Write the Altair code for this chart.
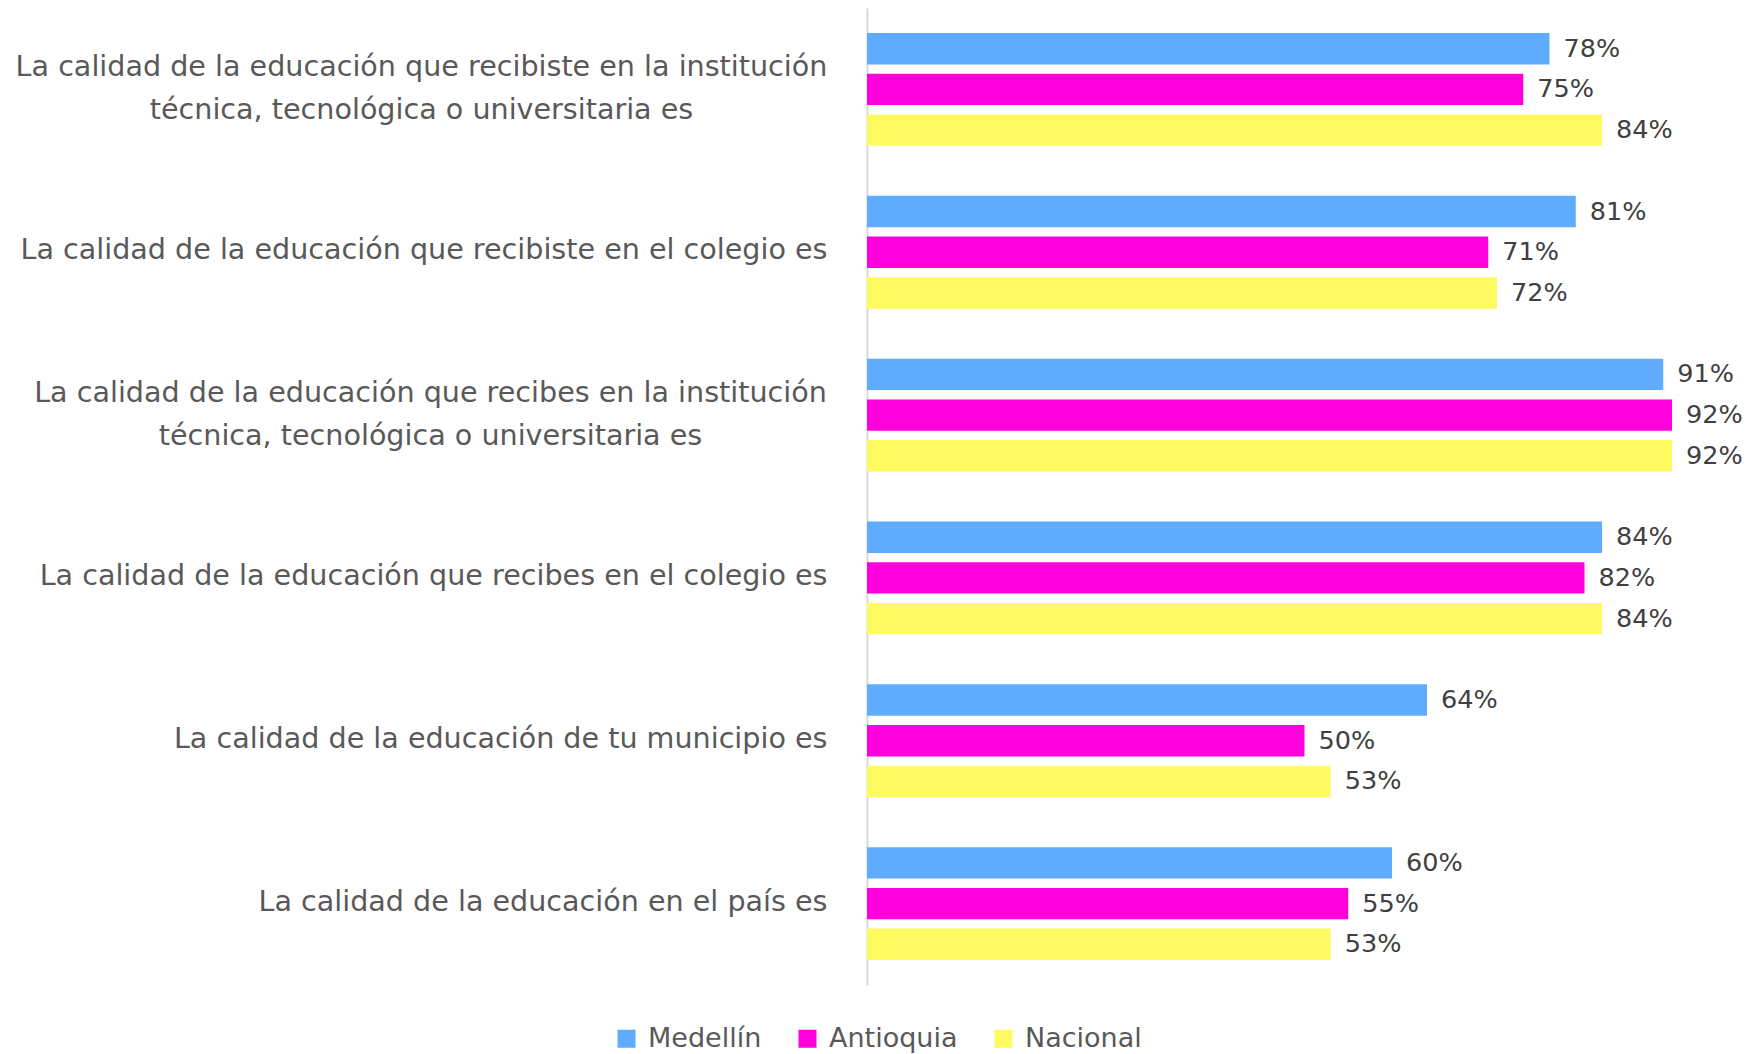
import altair as alt
import pandas as pd

categories = [
    "La calidad de la educación que recibiste en la institución|técnica, tecnológica o universitaria es",
    "La calidad de la educación que recibiste en el colegio es",
    "La calidad de la educación que recibes en la institución|técnica, tecnológica o universitaria es",
    "La calidad de la educación que recibes en el colegio es",
    "La calidad de la educación de tu municipio es",
    "La calidad de la educación en el país es",
]
series = ["Medellín", "Antioquia", "Nacional"]
medellin = [78, 81, 91, 84, 64, 60]
antioquia = [75, 71, 92, 82, 50, 55]
nacional = [84, 72, 92, 84, 53, 53]
colors = ["#5FACFF", "#FF00DC", "#FFFA5F"]

rows = []
for i, c in enumerate(categories):
    for s, vals in zip(series, [medellin, antioquia, nacional]):
        rows.append({"pregunta": c, "serie": s, "valor": vals[i]})
df = pd.DataFrame(rows)

FONT = "DejaVu Sans"

y_axis = alt.Axis(
    title=None,
    ticks=False,
    domainColor="#d9d9d9",
    domainWidth=2,
    labelFont=FONT,
    labelFontSize=28.6,
    labelColor="#595959",
    labelLimit=1000,
    labelLineHeight=43,
    labelExpr="split(datum.label, '|')",
    labelAlign={"condition": {"test": "indexof(datum.value, '|') >= 0", "value": "center"}, "value": "right"},
    labelOffset={"condition": {"test": "indexof(datum.value, '|') >= 0", "value": -22}, "value": -2},
    labelPadding={
        "condition": [
            {"test": "indexof(datum.value, 'recibiste en la') >= 0", "value": 446},
            {"test": "indexof(datum.value, 'recibes en la') >= 0", "value": 437},
        ],
        "value": 40,
    },
)

base = alt.Chart(df).encode(
    y=alt.Y("pregunta:N", sort=categories,
            scale=alt.Scale(paddingInner=0.25, paddingOuter=0.125), axis=y_axis),
    yOffset=alt.YOffset("serie:N", sort=series,
                        scale=alt.Scale(paddingInner=0.23, paddingOuter=0.115)),
    x=alt.X("valor:Q", scale=alt.Scale(domain=[0, 100]), axis=None),
)

bars = base.mark_bar().encode(
    color=alt.Color(
        "serie:N",
        sort=series,
        scale=alt.Scale(domain=series, range=colors),
        legend=alt.Legend(
            title=None,
            orient="none",
            direction="horizontal",
            legendX=-254,
            legendY=1017,
            symbolType="square",
            symbolSize=324,
            symbolStrokeWidth=0,
            symbolOpacity=1,
            labelFont=FONT,
            labelFontSize=27,
            labelColor="#595959",
            labelOffset=8,
            columnPadding=32,
        ),
    )
)

text = base.mark_text(
    align="left", baseline="middle", dx=14, font=FONT, fontSize=25.5, color="#404040"
).transform_calculate(etiqueta="datum.valor + '%'").encode(text="etiqueta:N")

chart = (
    alt.layer(bars, text)
    .properties(
        width=875,
        height=977,
        padding={"left": 859, "top": 0, "right": 2, "bottom": 69},
        autosize=alt.AutoSizeParams(type="none"),
    )
    .configure_view(stroke=None)
)

chart.save("out.html", embed_options={"renderer": "svg", "actions": False})
